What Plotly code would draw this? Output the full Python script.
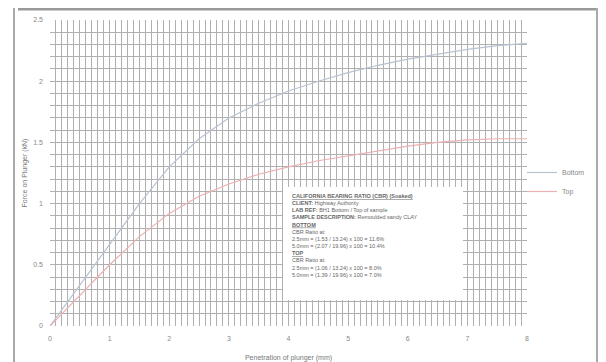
import plotly.graph_objects as go

# Data
penetration = [0, 0.5, 1, 1.5, 2, 2.5, 3, 3.5, 4, 4.5, 5, 5.5, 6, 6.5, 7, 7.5, 8]
bottom_force = [0, 0.33, 0.66, 1.0, 1.3, 1.53, 1.7, 1.82, 1.92, 2.0, 2.07, 2.13, 2.18, 2.22, 2.26, 2.29, 2.31]
top_force = [0, 0.25, 0.5, 0.73, 0.92, 1.06, 1.16, 1.24, 1.3, 1.35, 1.39, 1.43, 1.47, 1.5, 1.52, 1.53, 1.53]
series_names = ["Bottom", "Top"]
x_ticks = [0, 1, 2, 3, 4, 5, 6, 7, 8]
y_ticks = [0, 0.5, 1, 1.5, 2, 2.5]
y_tick_labels = ["0", "0.5", "1", "1.5", "2", "2.5"]

box_lines = [
    "<b><u>CALIFORNIA BEARING RATIO (CBR) (Soaked)</u></b>",
    "<b>CLIENT:</b> Highway Authority",
    "<b>LAB REF:</b> BH1 Bottom / Top of sample",
    "<b>SAMPLE DESCRIPTION:</b> Remoulded sandy CLAY",
    "<b><u>BOTTOM</u></b>",
    "CBR Ratio at:",
    "2.5mm = (1.53 / 13.24) x 100 = 11.6%",
    "5.0mm = (2.07 / 19.96) x 100 = 10.4%",
    "<b><u>TOP</u></b>",
    "CBR Ratio at:",
    "2.5mm = (1.06 / 13.24) x 100 = 8.0%",
    "5.0mm = (1.39 / 19.96) x 100 = 7.0%",
]

# page body has an 8px margin, so the figure is offset by 8px
OFF = 8
W, H = 598, 354
L, R, T, B = 42, 79, 12, 36
pw, ph = W - L - R, H - T - B

def px_x(p):  # page pixel -> paper fraction
    return (p - OFF - L) / pw

def px_y(p):
    return (H - B - (p - OFF)) / ph

fig = go.Figure()
fig.add_trace(go.Scatter(x=penetration, y=bottom_force, mode="lines", name=series_names[0],
                         line=dict(color="#b8c2d2", width=1.2)))
fig.add_trace(go.Scatter(x=penetration, y=top_force, mode="lines", name=series_names[1],
                         line=dict(color="#ecb0b0", width=1.2)))

grid_col = "#b0b0b0"
fig.update_xaxes(range=[0, 8], tickvals=x_ticks, showgrid=True, gridcolor=grid_col, gridwidth=1,
                 minor=dict(dtick=0.1, showgrid=True, gridcolor=grid_col, gridwidth=1),
                 zeroline=False, showline=False, ticks="", automargin=False, ticklabelstandoff=7,
                 tickfont=dict(size=7, color="#888888"),
                 title=dict(text="Penetration of plunger (mm)", font=dict(size=7, color="#777777"), standoff=14))
fig.update_yaxes(range=[0, 2.5], tickvals=y_ticks, ticktext=y_tick_labels, showgrid=True,
                 gridcolor=grid_col, gridwidth=1,
                 minor=dict(dtick=0.1, showgrid=True, gridcolor=grid_col, gridwidth=1),
                 zeroline=False, showline=False, ticks="", automargin=False, ticklabelstandoff=6,
                 tickfont=dict(size=7, color="#888888"),
                 title=dict(text="Force on Plunger (kN)", font=dict(size=7, color="#777777"), standoff=4))

shapes = [
    # page frame
    dict(type="line", xref="paper", yref="paper", x0=px_x(18), x1=px_x(600), y0=px_y(9), y1=px_y(9),
         line=dict(color="#999999", width=3)),
    dict(type="line", xref="paper", yref="paper", x0=px_x(14), x1=px_x(14), y0=px_y(8), y1=px_y(362),
         line=dict(color="#aaaaaa", width=2)),
    dict(type="line", xref="paper", yref="paper", x0=px_x(597), x1=px_x(597), y0=px_y(8), y1=px_y(362),
         line=dict(color="#aaaaaa", width=2)),
    # annotation box background
    dict(type="rect", xref="paper", yref="paper", x0=px_x(283), x1=px_x(463), y0=px_y(300), y1=px_y(187),
         fillcolor="white", line=dict(width=0), layer="above"),
]

fig.update_layout(
    width=W, height=H,
    margin=dict(l=L, r=R, t=T, b=B, autoexpand=False),
    paper_bgcolor="white", plot_bgcolor="white",
    font=dict(family="Liberation Sans, Arial, sans-serif", color="#777777"),
    shapes=shapes,
    legend=dict(x=px_x(522), y=px_y(158), xanchor="left", yanchor="top",
                font=dict(size=7, color="#888888"), bgcolor="rgba(0,0,0,0)",
                itemwidth=30, tracegroupgap=0),
    annotations=[
        dict(xref="paper", yref="paper", x=px_x(290), y=px_y(191), xanchor="left", yanchor="top",
             text="<br>".join(box_lines), showarrow=False, align="left",
             font=dict(size=5.5, color="#666666"))
    ],
)

fig.write_html("out.html")
